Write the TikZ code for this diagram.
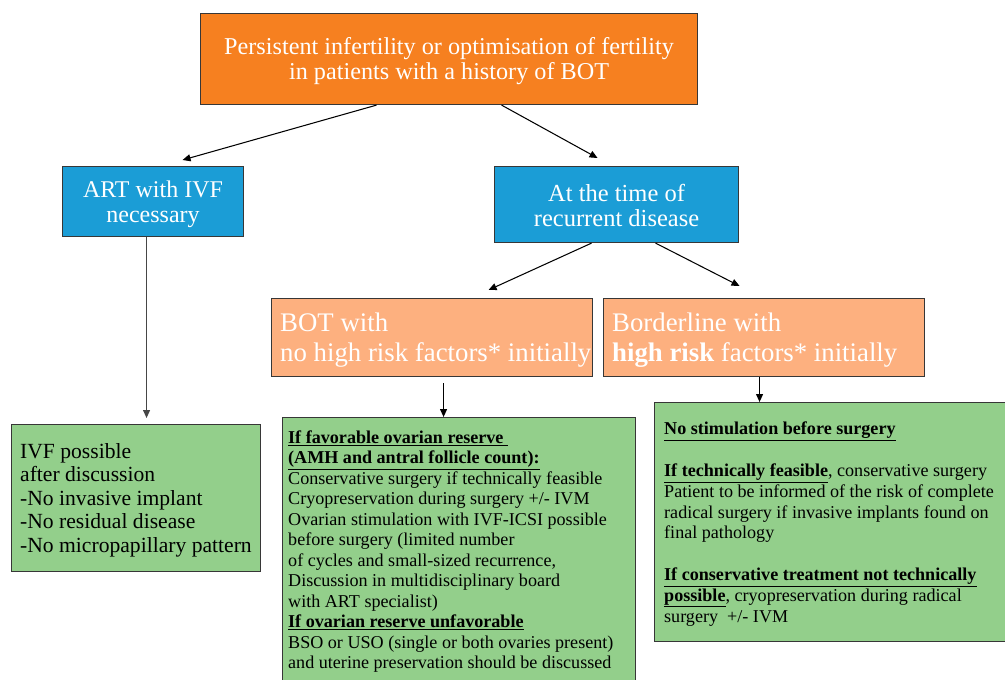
\documentclass[tikz,border=0pt]{standalone}
\usepackage{fontspec}
\setmainfont{Liberation Serif}
\usetikzlibrary{arrows.meta}
\definecolor{topor}{RGB}{246,128,32}
\definecolor{bluebx}{RGB}{27,157,214}
\definecolor{ltor}{RGB}{253,176,127}
\definecolor{grn}{RGB}{147,207,139}
\definecolor{bord}{RGB}{55,55,55}
\definecolor{vline}{RGB}{70,70,70}
\begin{document}
\begin{tikzpicture}[x=1pt,y=-1pt,
  box/.style={draw=bord, line width=1.1pt, inner sep=0pt, anchor=north west},
  wbox/.style={box, text=white, align=center},
  arr/.style={draw=black, line width=1.05pt, -{Triangle[length=8pt,width=7pt]}},
  otext/.style={text=white, align=left, inner sep=0pt, font=\fontsize{26.8}{30}\selectfont},
  gtext/.style={text=black, align=left, inner sep=0pt}]
\useasboundingbox (0,0) rectangle (1005,680);
\clip (0,0) rectangle (1005,680);

\node[wbox, fill=topor, minimum width=497pt, minimum height=91pt, font=\fontsize{24.2}{25}\selectfont] (top) at (200,13)
  {\rule{0pt}{21.5pt}Persistent infertility or optimisation of fertility\\in patients with a history of BOT};
\node[wbox, fill=bluebx, minimum width=181pt, minimum height=70pt, font=\fontsize{24}{25}\selectfont] (art) at (62,166)
  {\rule{0pt}{23pt}ART with IVF\\necessary};
\node[wbox, fill=bluebx, minimum width=244pt, minimum height=76pt, font=\fontsize{24.5}{25}\selectfont] (rec) at (494,166)
  {\rule{0pt}{19pt}At the time of\\recurrent disease};

\node[box, fill=ltor, minimum width=321pt, minimum height=78pt] (o1) at (271,298) {};
\node[otext, anchor=west] (o1t) at ([xshift=9pt,yshift=-3pt]o1.west) {BOT with\\no high risk factors* initially};
\node[box, fill=ltor, minimum width=321pt, minimum height=78pt] (o2) at (603,298) {};
\node[otext, anchor=west] (o2t) at ([xshift=9pt,yshift=-3pt]o2.west) {Borderline with\\\textbf{high risk} factors* initially};

\node[box, fill=grn, minimum width=249pt, minimum height=147pt] (g1) at (11,424) {};
\node[gtext, anchor=west, font=\fontsize{21.6}{23.5}\selectfont] (g1t) at ([xshift=9pt,yshift=-2pt]g1.west)
  {IVF possible\\after discussion\\-No invasive implant\\-No residual disease\\-No micropapillary pattern};

\node[box, fill=grn, minimum width=353pt, minimum height=300pt] (g2) at (282,417) {};
\node[gtext, anchor=north west, font=\fontsize{18.1}{20.5}\selectfont] (g2t) at ([xshift=6pt,yshift=-13.5pt]g2.north west)
  {\underline{\textbf{If favorable ovarian reserve\ }}\\
   \underline{\textbf{(AMH and antral follicle count):}}\\
   Conservative surgery if technically feasible\\
   Cryopreservation during surgery +/- IVM\\
   Ovarian stimulation with IVF-ICSI possible\\
   before surgery (limited number\\
   of cycles and small-sized recurrence,\\
   Discussion in multidisciplinary board\\
   with ART specialist)\\
   \underline{\textbf{If ovarian reserve unfavorable}}\\
   BSO or USO (single or both ovaries present)\\
   and uterine preservation should be discussed};

\node[box, fill=grn, minimum width=400pt, minimum height=239pt] (g3) at (654,402) {};
\node[gtext, anchor=north west, font=\fontsize{18.1}{20.8}\selectfont] (g3t) at ([xshift=10pt,yshift=-20pt]g3.north west)
  {\underline{\textbf{No stimulation before surgery}}\\[20.8pt]
   \underline{\textbf{If technically feasible}}, conservative surgery\\
   Patient to be informed of the risk of complete\\
   radical surgery if invasive implants found on\\
   final pathology\\[20.8pt]
   \underline{\textbf{If conservative treatment not technically}}\\
   \underline{\textbf{possible}}, cryopreservation during radical\\
   surgery\ \ +/- IVM};

\draw[arr] ([xshift=-72.5pt]top.south) -- ([xshift=29.5pt,yshift=6pt]art.north);
\draw[arr] ([xshift=52.5pt]top.south) -- ([xshift=-19pt,yshift=8pt]rec.north);
\draw[arr, draw=vline] ([xshift=-6.5pt]art.south) -- ([xshift=10.5pt,yshift=6pt]g1.north);
\draw[arr] ([xshift=-25pt]rec.south) -- ([xshift=56.5pt,yshift=8pt]o1.north);
\draw[arr] ([xshift=39pt]rec.south) -- ([xshift=-24.5pt,yshift=12pt]o2.north);
\draw[arr] ([xshift=11.5pt,yshift=-6pt]o1.south) -- ([xshift=-15.5pt]g2.north);
\draw[arr] ([xshift=-4.5pt]o2.south) -- ([xshift=-95pt]g3.north);
\end{tikzpicture}
\end{document}
